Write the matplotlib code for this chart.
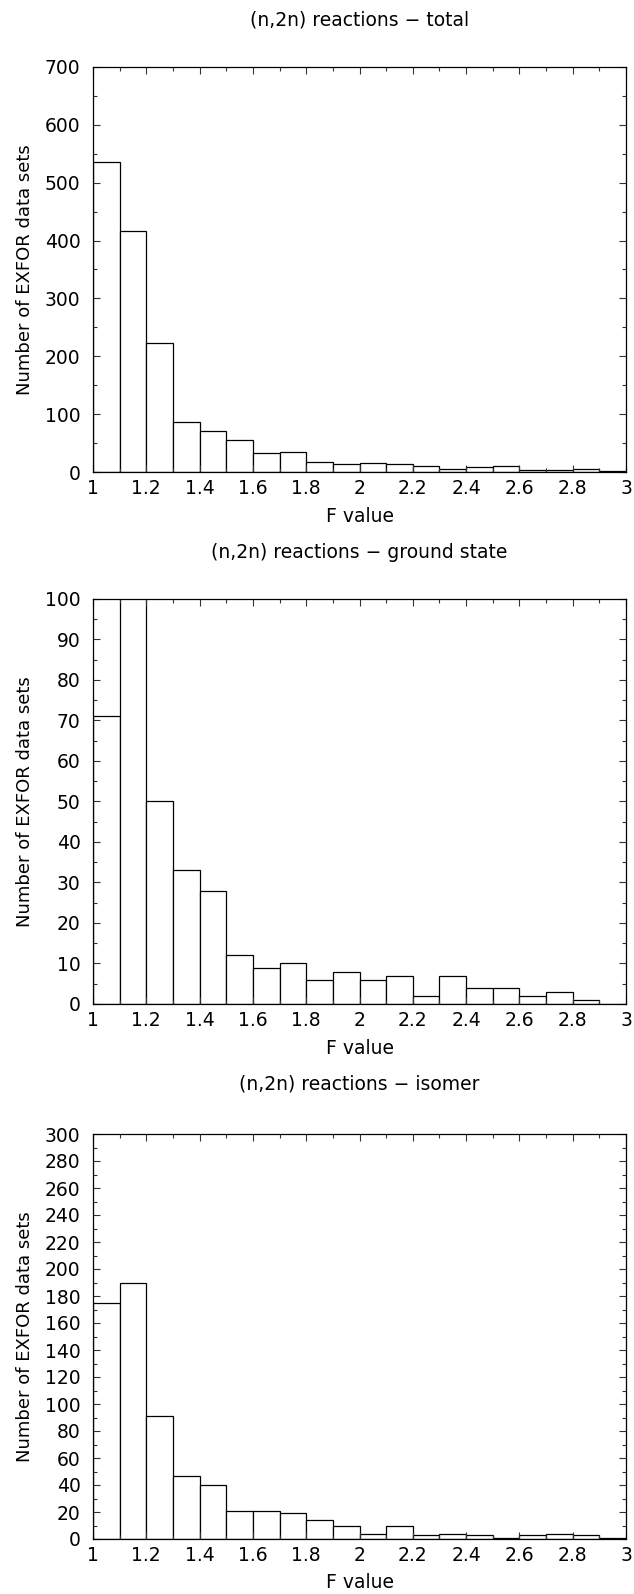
import matplotlib

matplotlib.use("Agg")

import matplotlib.pyplot as plt
from matplotlib.ticker import FuncFormatter, MultipleLocator

plt.rcParams["font.family"] = ["DejaVu Sans"]

# left edges of the F value bins
bin_left = [1.0, 1.1, 1.2, 1.3, 1.4, 1.5, 1.6, 1.7, 1.8, 1.9,
            2.0, 2.1, 2.2, 2.3, 2.4, 2.5, 2.6, 2.7, 2.8, 2.9]
bin_width = 0.1

total_counts = [535, 417, 223, 87, 71, 55, 33, 35, 18, 13,
                15, 13, 10, 5, 8, 10, 3, 3, 5, 1]
# second bin runs off the top of the 0-100 axis
ground_counts = [71, 120, 50, 33, 28, 12, 9, 10, 6, 8,
                 6, 7, 2, 7, 4, 4, 2, 3, 1, 0]
isomer_counts = [175, 190, 91, 47, 40, 21, 21, 19, 14, 10,
                 4, 10, 3, 4, 3, 1, 3, 4, 3, 1]

titles = ["(n,2n) reactions \u2212 total",
          "(n,2n) reactions \u2212 ground state",
          "(n,2n) reactions \u2212 isomer"]
ymax = [700, 100, 300]
ymajor = [100, 10, 20]
yminor = [50, 5, 10]

W, H = 634, 1594
fig = plt.figure(figsize=(W / 100, H / 100), dpi=100)

# axes boxes in pixels (top, bottom)
boxes = [(67, 472), (599, 1004), (1134, 1539)]
left_px, right_px = 93, 626
title_y = [20, 552, 1084]
xlabel_y = [516, 1048, 1583]
cx = (left_px + right_px) / 2

panels = [total_counts, ground_counts, isomer_counts]

for k in range(3):
    top, bot = boxes[k]
    ax = fig.add_axes([left_px / W, 1 - bot / H, (right_px - left_px) / W, (bot - top) / H])
    ax.bar(bin_left, panels[k], width=bin_width, align="edge",
           facecolor="white", edgecolor="black", linewidth=0.9)
    ax.set_xlim(1, 3)
    ax.set_ylim(0, ymax[k])
    ax.xaxis.set_major_locator(MultipleLocator(0.2))
    ax.xaxis.set_minor_locator(MultipleLocator(0.1))
    ax.yaxis.set_major_locator(MultipleLocator(ymajor[k]))
    ax.yaxis.set_minor_locator(MultipleLocator(yminor[k]))
    ax.xaxis.set_major_formatter(FuncFormatter(lambda v, p: f"{v:g}"))
    ax.tick_params(which="both", direction="in", top=True, right=True,
                   labelsize=13.5, width=0.8, color="#333333")
    ax.tick_params(axis="y", which="major", pad=9)
    ax.tick_params(axis="x", which="major", pad=5)
    ax.tick_params(which="major", length=5)
    ax.tick_params(which="minor", length=3)
    for s in ax.spines.values():
        s.set_linewidth(0.9)
    fig.text(25 / W, 1 - (top + bot) / 2 / H, "Number of EXFOR data sets",
             rotation=90, ha="center", va="center", fontsize=13)
    fig.text(cx / W, 1 - title_y[k] / H, titles[k], ha="center", va="center", fontsize=13.5)
    fig.text(cx / W, 1 - xlabel_y[k] / H, "F value", ha="center", va="center", fontsize=13.5)

fig.savefig("out.png", dpi=100)
plt.close("all")
